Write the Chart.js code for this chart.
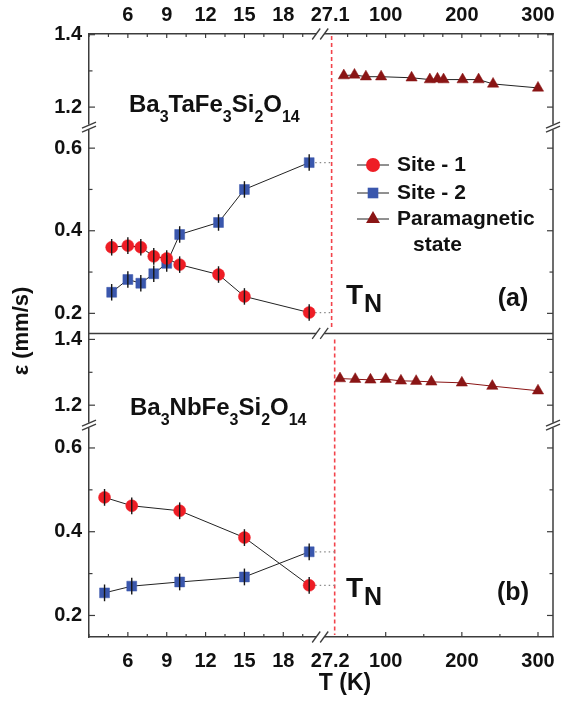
<!DOCTYPE html>
<html>
<head>
<meta charset="utf-8">
<script src="https://cdn.jsdelivr.net/npm/chart.js@4.4.0/dist/chart.umd.min.js"></script>
<style>
  html, body { margin: 0; padding: 0; background: #fff; overflow: hidden; }
  #wrap { position: relative; width: 567px; height: 709px; }
  #wrap canvas { display: block; }
</style>
</head>
<body>
<div id="wrap"><canvas id="mossChart"></canvas></div>
<script>
// ── data ───────────────────────────────────────────────────
// (a) Ba3TaFe3Si2O14
const T_A_LOW = [4.75, 6, 7, 8, 9, 10, 13, 15, 20];
const SITE1_A = [0.360, 0.364, 0.360, 0.338, 0.333, 0.318, 0.294, 0.241, 0.202];
const SITE2_A = [0.251, 0.282, 0.273, 0.296, 0.321, 0.391, 0.420, 0.500, 0.565];
const T_A_PARA = [45, 59, 74, 94, 134, 158, 168, 176, 201, 222, 241, 300];
const PARA_A = [1.287, 1.289, 1.284, 1.284, 1.281, 1.276, 1.278, 1.276, 1.276, 1.276, 1.264, 1.253];
// (b) Ba3NbFe3Si2O14
const T_B_LOW = [4.2, 6.3, 10, 15, 20];
const SITE1_B = [0.482, 0.462, 0.450, 0.386, 0.272];
const SITE2_B = [0.254, 0.270, 0.280, 0.292, 0.352];
const T_B_PARA = [40, 60, 80, 100, 120, 140, 160, 200, 240, 300];
const PARA_B = [1.281, 1.279, 1.277, 1.279, 1.274, 1.273, 1.271, 1.268, 1.258, 1.244];
const ERR = 0.02;

// tick labels
const Y_HIGH_TICKS = [1.2, 1.4];
const Y_LOW_TICKS = [0.2, 0.4, 0.6];
const Y_HIGH_MINOR = [1.3];
const Y_LOW_MINOR = [0.3, 0.5];
const X_LEFT_TICKS = [6, 9, 12, 15, 18];
const X_LEFT_MINOR = [3, 4.5, 7.5, 10.5, 13.5, 16.5, 19.5];
const X_RIGHT_TICKS_BOTTOM = [27.2, 100, 200, 300];
const X_RIGHT_TICKS_TOP = [27.1, 100, 200, 300];
const X_RIGHT_MAJOR = [100, 200, 300];
const X_RIGHT_MINOR_BOTTOM = [50, 150, 250];
const X_RIGHT_MINOR_TOP = [50, 75, 125, 150, 175, 225, 250, 275];
// where the T_N dashed markers sit on the high-T segment
const TN_LINE_A = 29;
const TN_LINE_B = 33;

const FONT = "'Liberation Sans', Arial, sans-serif";
const AXIS = '#3c3c3c';
const RED = '#ee1d25';
const BLUE = '#3a57ad';
const MAROON = '#8a1515';

Chart.defaults.font.family = FONT;
Chart.defaults.color = '#111';

const pts = (xs, ys) => xs.map((x, i) => ({ x, y: ys[i] }));

// label overhang would otherwise push the plot area in
function noPad(s) {
    s.paddingLeft = 0; s.paddingRight = 0; s.paddingTop = 0; s.paddingBottom = 0;
}

function yScale(min, max, ticks, weight) {
    return {
        type: 'linear', position: 'left', stack: 'eps', stackWeight: weight,
        min, max,
        grid: { display: false, drawTicks: false },
        border: { display: true, color: AXIS, width: 1.5 },
        ticks: { padding: 7, font: { size: 20, weight: 'bold' }, color: '#111', callback: v => v.toFixed(1) },
        afterBuildTicks: s => { s.ticks = ticks.map(v => ({ value: v })); },
        afterFit: s => { s.width = 89; noPad(s); }
    };
}

function xScale(pos, min, max, ticks, weight, pad) {
    return {
        type: 'linear', position: pos, stack: 'T' + pos, stackWeight: weight,
        min, max,
        grid: { display: false, drawTicks: false },
        border: { display: true, color: AXIS, width: 1.5 },
        ticks: { padding: pad, autoSkip: false, maxRotation: 0, font: { size: 20, weight: 'bold' }, color: '#111', callback: v => String(v) },
        afterBuildTicks: s => { s.ticks = ticks.map(v => ({ value: v })); },
        afterFit: s => { s.height = pos === 'top' ? 34 : 72; noPad(s); }
    };
}

function siteSet(label, data, xId, yId, color, style, r) {
    return {
        label, data: data, xAxisID: xId, yAxisID: yId,
        borderColor: '#222', borderWidth: 1,
        pointStyle: style, pointRadius: r, pointHoverRadius: r,
        pointBackgroundColor: color, pointBorderColor: color, pointBorderWidth: 0.5,
        errorBar: ERR, tension: 0
    };
}

function line(ctx, x1, y1, x2, y2) {
    ctx.beginPath(); ctx.moveTo(x1, y1); ctx.lineTo(x2, y2); ctx.stroke();
}

function marker(ctx, style, x, y, r, color) {
    ctx.fillStyle = color;
    ctx.beginPath();
    if (style === 'circle') ctx.arc(x, y, r, 0, Math.PI * 2);
    else if (style === 'rect') { const h = r * Math.SQRT1_2; ctx.rect(x - h, y - h, 2 * h, 2 * h); }
    else {
        ctx.moveTo(x, y - r);
        ctx.lineTo(x + r * 0.866, y + r / 2);
        ctx.lineTo(x - r * 0.866, y + r / 2);
        ctx.closePath();
    }
    ctx.fill();
}

function formula(ctx, parts, x, y) {
    ctx.textAlign = 'left'; ctx.textBaseline = 'alphabetic';
    parts.forEach(([txt, sub]) => {
        ctx.font = sub ? 'bold 16px ' + FONT : 'bold 24px ' + FONT;
        ctx.fillText(txt, x, sub ? y + 10 : y);
        x += ctx.measureText(txt).width;
    });
}

function tnLabel(ctx, x, y) {
    ctx.textAlign = 'left'; ctx.textBaseline = 'alphabetic';
    ctx.font = 'bold 28px ' + FONT;
    ctx.fillText('T', x, y);
    const w = ctx.measureText('T').width;
    ctx.font = 'bold 25px ' + FONT;
    ctx.fillText('N', x + w + 1, y + 8);
}

function hBreak(ctx, x, y) {
    ctx.save();
    ctx.fillStyle = '#fff';
    ctx.fillRect(x - 4, y - 2, 8, 4);
    ctx.strokeStyle = AXIS; ctx.lineWidth = 1.3;
    line(ctx, x - 8, y + 5.5, x, y - 5.5);
    line(ctx, x, y + 5.5, x + 8, y - 5.5);
    ctx.restore();
}

function vBreak(ctx, x, y) {
    ctx.save();
    ctx.fillStyle = '#fff';
    ctx.fillRect(x - 2, y - 2.5, 4, 5);
    ctx.strokeStyle = AXIS; ctx.lineWidth = 1.3;
    line(ctx, x - 7, y + 1, x + 7, y - 5);
    line(ctx, x - 7, y + 5, x + 7, y - 1);
    ctx.restore();
}

const decor = {
    id: 'decor',
    beforeDatasetsDraw(chart) {
        const { ctx, scales: s } = chart;
        ctx.save();
        const xa = s.xR.getPixelForValue(TN_LINE_A);
        const xb = s.xR.getPixelForValue(TN_LINE_B);
        ctx.strokeStyle = '#f2434b'; ctx.lineWidth = 1.6; ctx.setLineDash([4, 3]);
        line(ctx, xa, s.yAhigh.top + 2, xa, s.yAlow.bottom - 6);
        line(ctx, xb, s.yBhigh.top + 6, xb, s.yBlow.bottom - 2);
        // dotted links from the last low-T point to T_N
        ctx.strokeStyle = '#8a8a8a'; ctx.lineWidth = 1.2; ctx.setLineDash([1.5, 3]);
        [[T_A_LOW, SITE1_A, s.yAlow, xa], [T_A_LOW, SITE2_A, s.yAlow, xa],
         [T_B_LOW, SITE1_B, s.yBlow, xb], [T_B_LOW, SITE2_B, s.yBlow, xb]].forEach(([ts, vs, ys, xe]) => {
            const n = ts.length - 1;
            const y = ys.getPixelForValue(vs[n]);
            line(ctx, s.xL.getPixelForValue(ts[n]) + 6, y, xe, y);
        });
        ctx.restore();
    },
    afterDatasetsDraw(chart) {
        const { ctx } = chart;
        ctx.save();
        ctx.strokeStyle = '#151515'; ctx.lineWidth = 1.4;
        chart.data.datasets.forEach((ds, i) => {
            if (!ds.errorBar) return;
            const meta = chart.getDatasetMeta(i);
            meta.data.forEach((p, j) => {
                const v = ds.data[j].y;
                const y1 = meta.yScale.getPixelForValue(v + ds.errorBar);
                const y2 = meta.yScale.getPixelForValue(v - ds.errorBar);
                line(ctx, p.x, y1, p.x, y2);
            });
        });
        ctx.restore();
    },
    afterDraw(chart) {
        const { ctx, chartArea: a, scales: s } = chart;
        ctx.save();
        ctx.strokeStyle = AXIS; ctx.lineWidth = 1.5;
        // right frame and panel separator
        line(ctx, a.right, a.top, a.right, a.bottom);
        const sep = s.yAlow.bottom;
        line(ctx, a.left, sep, a.right, sep);

        // inward tick marks
        ctx.lineWidth = 1.2;
        const yTicks = (sc, major, minor) => {
            major.forEach(v => { const y = sc.getPixelForValue(v); line(ctx, a.left, y, a.left + 6, y); line(ctx, a.right, y, a.right - 6, y); });
            minor.forEach(v => { const y = sc.getPixelForValue(v); line(ctx, a.left, y, a.left + 3.5, y); line(ctx, a.right, y, a.right - 3.5, y); });
        };
        yTicks(s.yAhigh, Y_HIGH_TICKS, Y_HIGH_MINOR);
        yTicks(s.yAlow, Y_LOW_TICKS, Y_LOW_MINOR);
        yTicks(s.yBhigh, Y_HIGH_TICKS, Y_HIGH_MINOR);
        yTicks(s.yBlow, Y_LOW_TICKS, Y_LOW_MINOR);
        const xTicks = (sc, vals, y, len) => vals.forEach(v => { const x = sc.getPixelForValue(v); line(ctx, x, y, x, y + len); });
        xTicks(s.xL, X_LEFT_TICKS, a.bottom, -5);
        xTicks(s.xL, X_LEFT_MINOR, a.bottom, -3);
        xTicks(s.xR, X_RIGHT_MAJOR, a.bottom, -5);
        xTicks(s.xR, X_RIGHT_MINOR_BOTTOM, a.bottom, -3);
        xTicks(s.xLt, X_LEFT_TICKS, a.top, 4);
        xTicks(s.xLt, X_LEFT_MINOR, a.top, 3);
        xTicks(s.xRt, X_RIGHT_MAJOR, a.top, 4);
        xTicks(s.xRt, X_RIGHT_MINOR_TOP, a.top, 3);

        // axis breaks
        const bx = s.xL.right;
        hBreak(ctx, bx, a.top);
        hBreak(ctx, bx, sep);
        hBreak(ctx, bx, a.bottom);
        [s.yAhigh.bottom, s.yBhigh.bottom].forEach(y => { vBreak(ctx, a.left, y); vBreak(ctx, a.right, y); });

        // texts
        ctx.fillStyle = '#111';
        formula(ctx, [['Ba', 0], ['3', 1], ['TaFe', 0], ['3', 1], ['Si', 0], ['2', 1], ['O', 0], ['14', 1]], 129, 112);
        formula(ctx, [['Ba', 0], ['3', 1], ['NbFe', 0], ['3', 1], ['Si', 0], ['2', 1], ['O', 0], ['14', 1]], 130, 415);
        tnLabel(ctx, 346, 304);
        tnLabel(ctx, 346, 597);
        ctx.font = 'bold 25px ' + FONT; ctx.textAlign = 'center'; ctx.textBaseline = 'middle';
        ctx.fillText('(a)', 513, 299);
        ctx.fillText('(b)', 513, 593);
        ctx.font = 'bold 23px ' + FONT;
        ctx.fillText('T (K)', 345, 684);
        ctx.save();
        ctx.translate(22, 331); ctx.rotate(-Math.PI / 2);
        ctx.font = 'bold 22px ' + FONT;
        ctx.fillText('\u03b5 (mm/s)', 0, 0);
        ctx.restore();

        // legend
        const items = [['circle', RED, 7, 'Site - 1', 165], ['rect', BLUE, 7.5, 'Site - 2', 193], ['triangle', MAROON, 8, 'Paramagnetic', 219]];
        items.forEach(([st, col, r, txt, y]) => {
            ctx.strokeStyle = '#222'; ctx.lineWidth = 1;
            line(ctx, 357, y, 389, y);
            marker(ctx, st, 373, y, r, col);
            ctx.fillStyle = '#111'; ctx.font = 'bold 21px ' + FONT;
            ctx.textAlign = 'left'; ctx.textBaseline = 'middle';
            ctx.fillText(txt, 397, y);
        });
        ctx.fillText('state', 413, 245);
        ctx.restore();
    }
};

new Chart(document.getElementById('mossChart'), {
    type: 'line',
    data: {
        datasets: [
            siteSet('Site - 1', pts(T_A_LOW, SITE1_A), 'xL', 'yAlow', RED, 'circle', 6),
            siteSet('Site - 2', pts(T_A_LOW, SITE2_A), 'xL', 'yAlow', BLUE, 'rect', 7),
            {
                label: 'Paramagnetic state', data: pts(T_A_PARA, PARA_A), xAxisID: 'xR', yAxisID: 'yAhigh',
                borderColor: '#222', borderWidth: 1, pointStyle: 'triangle', pointRadius: 6.5,
                pointBackgroundColor: MAROON, pointBorderColor: MAROON, pointBorderWidth: 0.5
            },
            siteSet('Site - 1', pts(T_B_LOW, SITE1_B), 'xL', 'yBlow', RED, 'circle', 6),
            siteSet('Site - 2', pts(T_B_LOW, SITE2_B), 'xL', 'yBlow', BLUE, 'rect', 7),
            {
                label: 'Paramagnetic state', data: pts(T_B_PARA, PARA_B), xAxisID: 'xR', yAxisID: 'yBhigh',
                borderColor: MAROON, borderWidth: 1, pointStyle: 'triangle', pointRadius: 6.5,
                pointBackgroundColor: MAROON, pointBorderColor: MAROON, pointBorderWidth: 0.5
            }
        ]
    },
    options: {
        responsive: true,
        maintainAspectRatio: false,
        animation: false,
        layout: { autoPadding: false, padding: { left: 0, right: 14, top: 0, bottom: 0 } },
        plugins: { legend: { display: false }, tooltip: { enabled: false } },
        scales: {
            // left stack: the last one listed ends up on top
            yBlow: yScale(0.1486, 0.6543, Y_LOW_TICKS, 211.5),
            yBhigh: yScale(1.1391, 1.4183, Y_HIGH_TICKS, 91.7),
            yAlow: yScale(0.1515, 0.6509, Y_LOW_TICKS, 206),
            yAhigh: yScale(1.1447, 1.4019, Y_HIGH_TICKS, 93),
            xL: xScale('bottom', 3, 20.85, X_LEFT_TICKS, 231.2, 12),
            xR: xScale('bottom', 14, 319.7, X_RIGHT_TICKS_BOTTOM, 232.8, 12),
            xRt: xScale('top', 14, 319.7, X_RIGHT_TICKS_TOP, 232.8, 7),
            xLt: xScale('top', 3, 20.85, X_LEFT_TICKS, 231.2, 7)
        }
    },
    plugins: [decor]
});
</script>
</body>
</html>
